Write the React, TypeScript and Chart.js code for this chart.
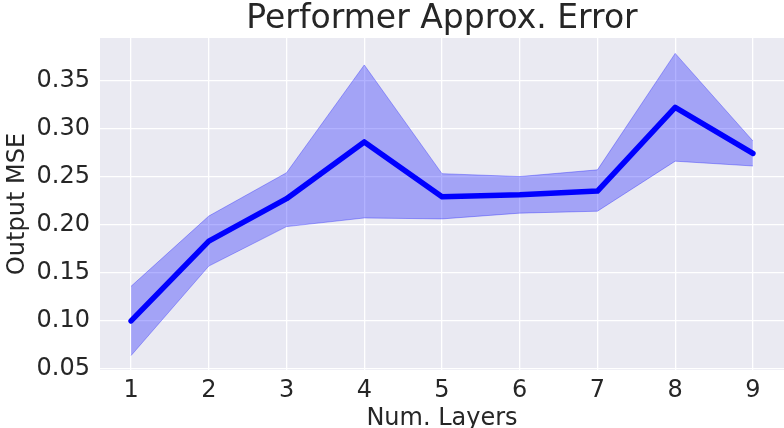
import React, { useEffect, useRef } from "react";
import { Chart, registerables } from "chart.js";

Chart.register(...registerables);

const layers = [1, 2, 3, 4, 5, 6, 7, 8, 9];
const meanMSE = [0.1, 0.183, 0.227, 0.286, 0.229, 0.231, 0.235, 0.322, 0.274];
const upperMSE = [0.136, 0.209, 0.254, 0.366, 0.253, 0.25, 0.257, 0.378, 0.287];
const lowerMSE = [0.064, 0.157, 0.198, 0.207, 0.206, 0.212, 0.214, 0.266, 0.261];

const titleText = "Performer Approx. Error";
const xTitle = "Num. Layers";
const yTitle = "Output MSE";

const FONT = "'DejaVu Sans', sans-serif";
const TEXT = "#262626";

const bgPlugin = {
  id: "plotBg",
  beforeDraw(chart: any) {
    const { ctx, chartArea } = chart;
    ctx.save();
    ctx.fillStyle = "#EAEAF2";
    ctx.fillRect(chartArea.left, chartArea.top, chartArea.right - chartArea.left, chartArea.bottom - chartArea.top);
    ctx.restore();
  },
};

export default function App() {
  const ref = useRef<HTMLCanvasElement | null>(null);
  useEffect(() => {
    document.body.style.margin = "0";
    const pts = (arr: number[]) => layers.map((x, i) => ({ x, y: arr[i] }));
    const chart = new Chart(ref.current as HTMLCanvasElement, {
      type: "line",
      data: {
        datasets: [
          {
            label: "mean",
            data: pts(meanMSE),
            borderColor: "#0000FF",
            borderWidth: 5.5,
            borderCapStyle: "round",
            borderJoinStyle: "round",
            pointRadius: 0,
            fill: false,
            tension: 0,
            order: 0,
          },
          {
            label: "upper",
            data: pts(upperMSE),
            borderColor: "rgba(0,0,255,0.3)",
            borderWidth: 1,
            backgroundColor: "rgba(0,0,255,0.3)",
            pointRadius: 0,
            fill: "+1",
            tension: 0,
            order: 1,
          },
          {
            label: "lower",
            data: pts(lowerMSE),
            borderColor: "rgba(0,0,255,0.3)",
            borderWidth: 1,
            pointRadius: 0,
            fill: false,
            tension: 0,
            order: 2,
          },
        ],
      },
      options: {
        animation: false,
        responsive: false,
        maintainAspectRatio: false,
        layout: { padding: { left: 0, right: 0, top: 0, bottom: 0 } },
        plugins: {
          legend: { display: false },
          tooltip: { enabled: false },
          title: {
            display: true,
            text: titleText,
            fullSize: false,
            color: TEXT,
            font: { family: FONT, size: 33, weight: "normal", lineHeight: 1.1 },
            padding: { top: 1.7, bottom: 0 },
          },
        },
        scales: {
          x: {
            type: "linear",
            min: 0.6,
            max: 9.4,
            border: { display: false },
            grid: { color: "#FFFFFF", lineWidth: 1.3, drawTicks: false },
            ticks: {
              stepSize: 1,
              includeBounds: false,
              padding: 6,
              color: TEXT,
              font: { family: FONT, size: 24 },
            },
            title: {
              display: true,
              text: xTitle,
              color: TEXT,
              font: { family: FONT, size: 24, lineHeight: 1.0 },
              padding: { top: 0, bottom: -3 },
            },
            afterFit(scale: any) {
              scale.height = 58;
            },
          },
          y: {
            type: "linear",
            min: 0.049,
            max: 0.394,
            border: { display: false },
            grid: { color: "#FFFFFF", lineWidth: 1.3, drawTicks: false },
            ticks: {
              stepSize: 0.05,
              includeBounds: false,
              padding: 10,
              color: TEXT,
              font: { family: FONT, size: 24 },
              callback: (v: any) => Number(v).toFixed(2),
            },
            title: {
              display: true,
              text: yTitle,
              color: TEXT,
              font: { family: FONT, size: 24, lineHeight: 1.0 },
              padding: { top: 6, bottom: 0 },
            },
            afterFit(scale: any) {
              scale.width = 100;
            },
          },
        },
      },
      plugins: [bgPlugin],
    } as any);
    return () => chart.destroy();
  }, []);
  return (
    <div style={{ position: "fixed", left: 0, top: 0, width: 784, height: 428 }}>
      <canvas ref={ref} width={784} height={428} style={{ display: "block" }} />
    </div>
  );
}
